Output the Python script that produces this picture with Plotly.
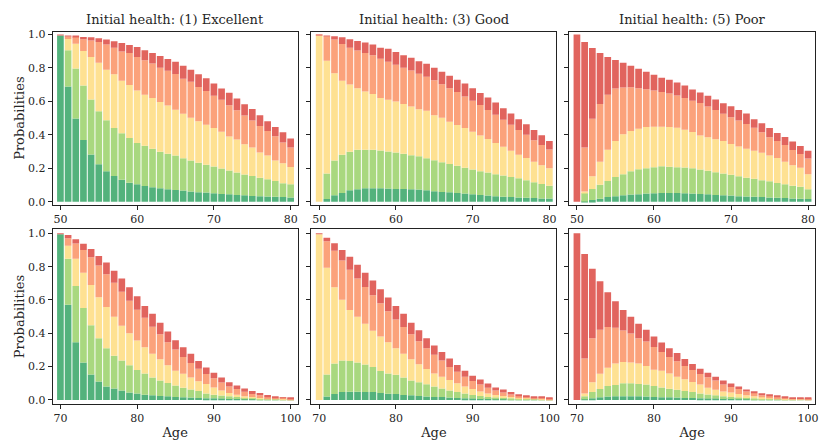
import plotly.graph_objects as go

AGES_TOP = list(range(50, 81))
AGES_BOT = list(range(70, 101))
TITLES = ["Initial health: (1) Excellent", "Initial health: (3) Good", "Initial health: (5) Poor"]
CATEGORIES = ["Excellent", "Very good", "Good", "Fair", "Poor"]
COLORS = ["#53b27c", "#a9d87f", "#fee192", "#fba27b", "#e1645e"]

# cumulative tops of each health state: G1 excellent, G2 +very good, G3 +good, G4 +fair, TOT +poor
P1_G1 = [0.995,0.689,0.498,0.370,0.283,0.224,0.183,0.154,0.132,0.114,0.104,0.094,0.087,0.081,0.075,0.071,0.067,0.061,0.057,0.055,0.051,0.047,0.045,0.041,0.039,0.035,0.033,0.031,0.030,0.028,0.026]
P1_G2 = [0.995,0.906,0.797,0.695,0.612,0.541,0.488,0.441,0.409,0.382,0.352,0.335,0.317,0.299,0.287,0.276,0.260,0.246,0.234,0.222,0.211,0.199,0.187,0.175,0.163,0.154,0.144,0.134,0.124,0.110,0.104]
P1_G3 = [0.995,0.974,0.945,0.902,0.866,0.831,0.789,0.762,0.724,0.699,0.665,0.640,0.620,0.596,0.575,0.551,0.526,0.502,0.482,0.461,0.441,0.419,0.390,0.372,0.344,0.325,0.295,0.276,0.246,0.231,0.208]
P1_G4 = [0.995,0.990,0.986,0.972,0.965,0.955,0.941,0.921,0.898,0.890,0.866,0.846,0.827,0.801,0.783,0.764,0.736,0.717,0.687,0.663,0.634,0.610,0.577,0.547,0.516,0.486,0.453,0.423,0.392,0.355,0.325]
P1_TOT = [1.000,0.994,0.990,0.986,0.984,0.978,0.970,0.960,0.949,0.937,0.925,0.906,0.890,0.872,0.854,0.837,0.813,0.789,0.762,0.738,0.707,0.677,0.652,0.618,0.583,0.555,0.518,0.482,0.447,0.415,0.378]

P2_G1 = [0.0,0.016,0.039,0.053,0.069,0.075,0.081,0.081,0.081,0.079,0.077,0.077,0.075,0.073,0.069,0.063,0.059,0.057,0.053,0.049,0.045,0.041,0.037,0.033,0.030,0.028,0.026,0.024,0.022,0.020,0.020]
P2_G2 = [0.0,0.169,0.246,0.281,0.299,0.311,0.311,0.311,0.307,0.301,0.295,0.287,0.278,0.272,0.260,0.248,0.236,0.226,0.215,0.203,0.193,0.183,0.175,0.165,0.157,0.148,0.140,0.128,0.116,0.106,0.096]
P2_G3 = [0.995,0.843,0.768,0.724,0.701,0.679,0.659,0.644,0.620,0.610,0.600,0.585,0.569,0.553,0.545,0.518,0.502,0.478,0.459,0.441,0.419,0.396,0.376,0.352,0.329,0.305,0.281,0.262,0.240,0.219,0.201]
P2_G4 = [0.996,0.990,0.970,0.943,0.921,0.904,0.890,0.876,0.856,0.837,0.819,0.801,0.785,0.766,0.748,0.726,0.703,0.679,0.656,0.630,0.604,0.579,0.549,0.520,0.490,0.461,0.429,0.400,0.368,0.339,0.313]
P2_TOT = [1.000,0.994,0.990,0.984,0.972,0.961,0.953,0.941,0.921,0.915,0.896,0.876,0.861,0.841,0.825,0.801,0.778,0.754,0.730,0.707,0.679,0.650,0.624,0.594,0.559,0.528,0.494,0.463,0.429,0.398,0.364]

P3_G1 = [0.0,0.002,0.010,0.018,0.028,0.033,0.039,0.043,0.045,0.049,0.051,0.053,0.053,0.053,0.051,0.049,0.047,0.045,0.041,0.039,0.037,0.033,0.031,0.030,0.028,0.026,0.024,0.022,0.020,0.018,0.016]
P3_G2 = [0.0,0.053,0.077,0.102,0.124,0.148,0.165,0.183,0.195,0.201,0.207,0.213,0.209,0.207,0.205,0.201,0.193,0.185,0.177,0.169,0.161,0.152,0.144,0.138,0.128,0.122,0.112,0.104,0.096,0.089,0.075]
P3_G3 = [0.0,0.061,0.152,0.240,0.311,0.364,0.404,0.423,0.437,0.447,0.449,0.449,0.447,0.443,0.431,0.417,0.396,0.386,0.374,0.364,0.346,0.331,0.317,0.305,0.293,0.276,0.262,0.240,0.219,0.203,0.165]
P3_G4 = [0.0,0.325,0.496,0.585,0.640,0.677,0.683,0.685,0.679,0.673,0.665,0.657,0.648,0.636,0.620,0.604,0.591,0.569,0.549,0.526,0.506,0.486,0.465,0.443,0.415,0.386,0.364,0.339,0.309,0.285,0.258]
P3_TOT = [1.000,0.955,0.919,0.890,0.866,0.848,0.831,0.813,0.795,0.778,0.760,0.742,0.730,0.713,0.695,0.671,0.654,0.634,0.612,0.589,0.571,0.549,0.528,0.494,0.470,0.441,0.411,0.388,0.360,0.333,0.305]

P4_G1 = [0.995,0.572,0.346,0.224,0.153,0.110,0.081,0.069,0.057,0.045,0.039,0.031,0.028,0.024,0.022,0.018,0.016,0.014,0.012,0.010,0.010,0.008,0.006,0.006,0.004,0.004,0.003,0.002,0.002,0.001,0.001]
P4_G2 = [0.995,0.847,0.684,0.552,0.448,0.371,0.310,0.265,0.236,0.208,0.179,0.159,0.134,0.116,0.102,0.086,0.073,0.063,0.053,0.039,0.031,0.026,0.022,0.018,0.014,0.012,0.009,0.007,0.005,0.003,0.002]
P4_G3 = [0.995,0.925,0.847,0.764,0.690,0.617,0.558,0.499,0.446,0.401,0.356,0.316,0.277,0.244,0.208,0.175,0.157,0.134,0.112,0.096,0.075,0.057,0.041,0.031,0.022,0.017,0.012,0.009,0.006,0.004,0.003]
P4_G4 = [0.995,0.971,0.939,0.900,0.857,0.807,0.754,0.703,0.650,0.595,0.542,0.493,0.440,0.395,0.346,0.303,0.257,0.222,0.187,0.155,0.130,0.104,0.081,0.065,0.049,0.035,0.028,0.020,0.015,0.010,0.007]
P4_TOT = [1.000,0.990,0.965,0.937,0.906,0.864,0.825,0.776,0.729,0.676,0.623,0.564,0.517,0.464,0.411,0.358,0.316,0.277,0.234,0.195,0.163,0.134,0.106,0.086,0.069,0.053,0.041,0.029,0.022,0.015,0.010]

P5_G1 = [0.0,0.020,0.035,0.047,0.049,0.049,0.047,0.047,0.041,0.037,0.035,0.029,0.028,0.024,0.020,0.018,0.018,0.014,0.012,0.010,0.008,0.006,0.006,0.004,0.004,0.003,0.002,0.002,0.001,0.001,0.001]
P5_G2 = [0.0,0.153,0.218,0.236,0.234,0.224,0.212,0.198,0.173,0.159,0.151,0.134,0.116,0.106,0.094,0.081,0.069,0.057,0.047,0.039,0.029,0.024,0.018,0.014,0.012,0.010,0.007,0.006,0.004,0.003,0.002]
P5_G3 = [0.995,0.794,0.676,0.601,0.540,0.499,0.458,0.415,0.381,0.346,0.310,0.277,0.244,0.214,0.185,0.159,0.139,0.120,0.100,0.081,0.065,0.051,0.039,0.029,0.024,0.018,0.013,0.010,0.007,0.005,0.003]
P5_G4 = [0.995,0.953,0.896,0.837,0.782,0.729,0.678,0.629,0.580,0.532,0.483,0.438,0.395,0.352,0.310,0.271,0.236,0.198,0.169,0.139,0.114,0.092,0.073,0.057,0.045,0.033,0.024,0.019,0.014,0.010,0.006]
P5_TOT = [1.000,0.974,0.941,0.900,0.859,0.811,0.764,0.717,0.664,0.615,0.564,0.517,0.464,0.418,0.371,0.326,0.287,0.248,0.210,0.175,0.145,0.122,0.098,0.075,0.063,0.047,0.033,0.028,0.022,0.016,0.010]

P6_G1 = [0.0,0.004,0.010,0.016,0.020,0.022,0.022,0.022,0.022,0.020,0.018,0.016,0.016,0.014,0.012,0.012,0.010,0.008,0.008,0.006,0.006,0.004,0.004,0.003,0.002,0.002,0.001,0.001,0.001,0.001,0.001]
P6_G2 = [0.0,0.022,0.047,0.065,0.083,0.090,0.100,0.100,0.096,0.092,0.083,0.075,0.067,0.061,0.053,0.047,0.039,0.033,0.028,0.022,0.018,0.014,0.012,0.010,0.007,0.005,0.004,0.003,0.002,0.001,0.001]
P6_G3 = [0.0,0.039,0.106,0.157,0.193,0.218,0.228,0.224,0.218,0.204,0.181,0.175,0.159,0.139,0.124,0.108,0.092,0.073,0.061,0.051,0.045,0.035,0.028,0.022,0.018,0.014,0.009,0.007,0.005,0.004,0.003]
P6_G4 = [0.0,0.248,0.371,0.422,0.438,0.434,0.417,0.399,0.371,0.350,0.318,0.287,0.257,0.232,0.204,0.179,0.155,0.136,0.116,0.092,0.077,0.065,0.051,0.041,0.028,0.024,0.017,0.012,0.009,0.007,0.006]
P6_TOT = [1.000,0.876,0.788,0.713,0.646,0.593,0.540,0.499,0.458,0.422,0.381,0.344,0.310,0.281,0.246,0.216,0.187,0.163,0.139,0.116,0.098,0.081,0.063,0.051,0.039,0.033,0.022,0.016,0.012,0.010,0.010]

PANELS = [
    (AGES_TOP, [P1_G1, P1_G2, P1_G3, P1_G4, P1_TOT]),
    (AGES_TOP, [P2_G1, P2_G2, P2_G3, P2_G4, P2_TOT]),
    (AGES_TOP, [P3_G1, P3_G2, P3_G3, P3_G4, P3_TOT]),
    (AGES_BOT, [P4_G1, P4_G2, P4_G3, P4_G4, P4_TOT]),
    (AGES_BOT, [P5_G1, P5_G2, P5_G3, P5_G4, P5_TOT]),
    (AGES_BOT, [P6_G1, P6_G2, P6_G3, P6_G4, P6_TOT]),
]

W, H = 825, 444
FONT = "DejaVu Serif"
TXT = "#262626"

fig = go.Figure()

xdom_px = [(53, 299), (313, 559), (572, 819)]
ydom_px = [(29, 205), (230, 407)]

for i, (ages, cums) in enumerate(PANELS):
    r, c = divmod(i, 3)
    n = i + 1
    xa = "x" if n == 1 else f"x{n}"
    ya = "y" if n == 1 else f"y{n}"
    prev = [0.0] * len(ages)
    for k, cum in enumerate(cums):
        seg = [max(a - b, 0.0) for a, b in zip(cum, prev)]
        fig.add_trace(go.Bar(
            x=ages, y=seg, base=prev, name=CATEGORIES[k], xaxis=xa, yaxis=ya,
            marker=dict(color=COLORS[k], line=dict(width=0)),
            showlegend=False, hoverinfo="x+y+name"))
        prev = [max(a, b) for a, b in zip(cum, prev)]
    x0, x1 = xdom_px[c]
    yt, yb = ydom_px[r]
    lo = ages[0]
    xrange = [lo - 1.0, lo + 30.9]
    yrange = [-0.018, 1.018] if r == 0 else [-0.022, 1.024]
    axcommon = dict(showline=True, linecolor="#222222", linewidth=1, mirror=True,
                    ticks="outside", ticklen=4, tickwidth=1, tickcolor="#222222",
                    showgrid=False, zeroline=False,
                    tickfont=dict(family=FONT, size=11, color=TXT))
    fig.layout[("xaxis" if n == 1 else f"xaxis{n}")] = dict(
        domain=[x0 / W, x1 / W], anchor=ya, range=xrange,
        tickvals=list(range(lo, lo + 31, 10)),
        title=dict(text="Age", font=dict(family=FONT, size=13, color=TXT), standoff=4) if r == 1 else None,
        **axcommon)
    fig.layout[("yaxis" if n == 1 else f"yaxis{n}")] = dict(
        domain=[1 - yb / H, 1 - yt / H], anchor=xa, range=yrange,
        tickvals=[0, 0.2, 0.4, 0.6, 0.8, 1.0],
        ticktext=["0.0", "0.2", "0.4", "0.6", "0.8", "1.0"] if c == 0 else [""] * 6,
        title=dict(text="Probabilities", font=dict(family=FONT, size=13, color=TXT), standoff=0) if c == 0 else None,
        **axcommon)
    if r == 0:
        fig.add_annotation(x=(x0 + x1) / 2 / W, y=1 - 17 / H, xref="paper", yref="paper",
                           text=TITLES[c], showarrow=False,
                           font=dict(family=FONT, size=13, color=TXT),
                           xanchor="center", yanchor="middle")

fig.update_layout(
    width=W, height=H, barmode="overlay", bargap=0.13,
    margin=dict(l=0, r=0, t=0, b=0),
    paper_bgcolor="white", plot_bgcolor="white",
    font=dict(family=FONT, color=TXT),
)

fig.write_html("out.html")
